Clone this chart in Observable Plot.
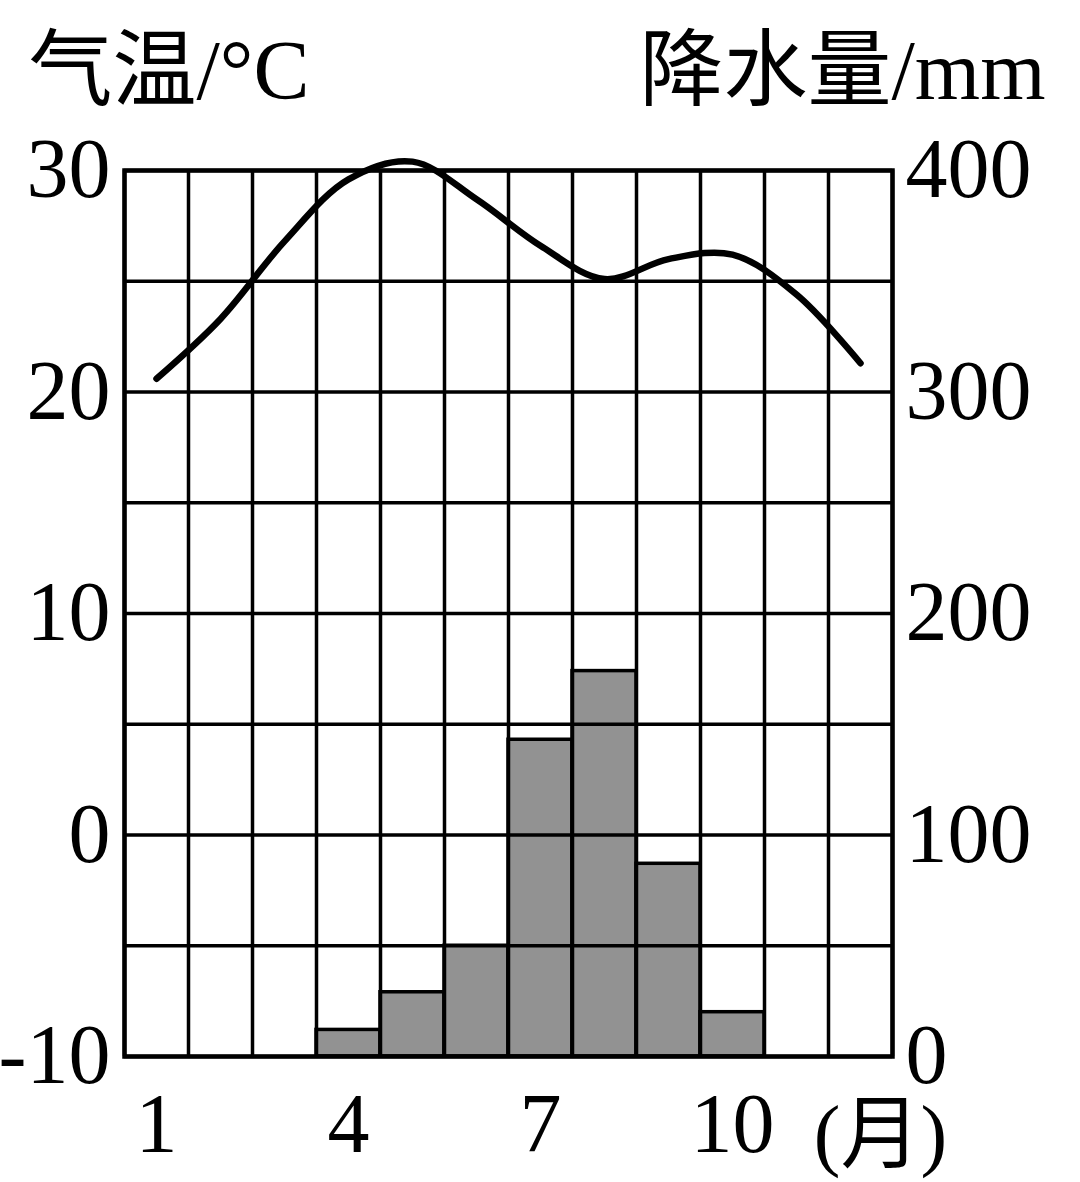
<!DOCTYPE html>
<html>
<head>
<meta charset="utf-8">
<script src="https://cdn.jsdelivr.net/npm/d3@7"></script>
<script src="https://cdn.jsdelivr.net/npm/@observablehq/plot@0.6"></script>
<style>
  html, body { margin: 0; padding: 0; background: #fff; }
  #chart svg { display: block; overflow: visible; }
</style>
</head>
<body>
<div id="chart"></div>
<script>
const months = [1, 2, 3, 4, 5, 6, 7, 8, 9, 10, 11, 12];
const temperature = [20.6, 23.3, 26.8, 29.6, 30.4, 28.7, 26.6, 25.1, 26.0, 26.2, 24.4, 21.3]; // °C
const precipitation = [0, 0, 0, 12, 29, 50, 143, 174, 87, 20, 0, 0]; // mm
const monthTicks = [1, 4, 7, 10];
const tempTicks = [-10, 0, 10, 20, 30];
const tempTitle = "气温/°C";
const precTitle = "降水量/mm";
const monthUnit = "(月)";

// precipitation 0–400 mm shares the frame with temperature -10–30 °C
const precToTemp = p => -10 + p / 10;
const tempToPrec = t => (t + 10) * 10;

const data = months.map((m, i) => ({month: m, temp: temperature[i], prec: precipitation[i]}));
const boundaries = d3.range(months[0] - 0.5, months[months.length - 1] + 1, 1);
const hLines = d3.range(-10, 31, 5);

const font = "'Liberation Serif', 'Times New Roman', 'Noto Sans CJK SC', serif";

const chart = Plot.plot({
  width: 1080,
  height: 1182,
  marginTop: 170,
  marginBottom: 126,
  marginLeft: 124,
  marginRight: 188,
  style: {fontFamily: font, fontSize: "84px", color: "#000", background: "#fff"},
  x: {domain: [0.5, 12.5]},
  y: {domain: [-10, 30]},
  marks: [
    Plot.rect(data.filter(d => d.prec > 0), {
      x1: d => d.month - 0.5,
      x2: d => d.month + 0.5,
      y1: () => -10,
      y2: d => precToTemp(d.prec),
      fill: "#929292",
      stroke: "#000",
      strokeWidth: 3.5
    }),
    Plot.ruleX(boundaries, {stroke: "#000", strokeWidth: 3.5}),
    Plot.ruleY(hLines, {stroke: "#000", strokeWidth: 3.5}),
    Plot.frame({stroke: "#000", strokeWidth: 4.5}),
    Plot.line(data, {x: "month", y: "temp", curve: "catmull-rom", stroke: "#000", strokeWidth: 6.5,
      strokeLinejoin: "round"}),
    Plot.axisY({anchor: "left", ticks: tempTicks, tickSize: 0, tickPadding: 14, label: null, fontSize: 84,
      tickFormat: t => String(t)}),
    Plot.axisY({anchor: "right", ticks: tempTicks, tickSize: 0, tickPadding: 13, label: null, fontSize: 84,
      tickFormat: t => String(tempToPrec(t))}),
    Plot.axisX({ticks: monthTicks, tickSize: 0, tickPadding: 36, label: null, fontSize: 84, tickFormat: d => String(d)}),
    Plot.text([monthUnit], {text: d => d, frameAnchor: "bottom-right", textAnchor: "middle", lineAnchor: "top",
      dx: -12, dy: 48, fontSize: 80}),
    Plot.text([tempTitle], {text: d => d, frameAnchor: "top-left", textAnchor: "start", lineAnchor: "bottom",
      dx: -96, dy: -72, fontSize: 84}),
    Plot.text([precTitle], {text: d => d, frameAnchor: "top-right", textAnchor: "end", lineAnchor: "bottom",
      dx: 153, dy: -72, fontSize: 84})
  ]
});
document.getElementById("chart").appendChild(chart);
</script>
</body>
</html>
